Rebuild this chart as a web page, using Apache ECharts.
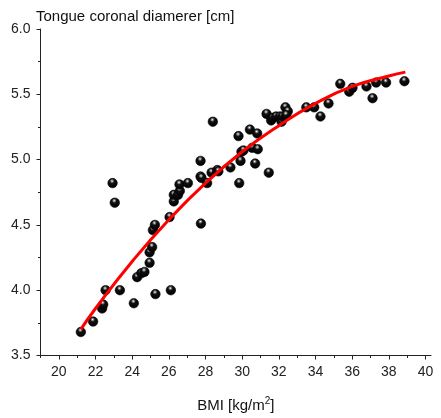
<!DOCTYPE html>
<html>
<head>
<meta charset="utf-8">
<script src="https://cdn.jsdelivr.net/npm/echarts@6/dist/echarts.min.js"></script>
<style>
  html, body { margin: 0; padding: 0; background: #fff; }
  #chart { width: 441px; height: 418px; }
</style>
</head>
<body>
<div id="chart"></div>
<script>
// measured points: BMI, tongue coronal diameter
var bmi = [21.2, 21.87, 22.36, 22.42, 22.55, 22.93, 23.05, 23.33, 24.09, 24.27,
  24.5, 24.67, 24.95, 24.95, 25.09, 25.13, 25.24, 25.27, 26.04, 26.11,
  26.27, 26.27, 26.5, 26.6, 26.58, 27.04, 27.73, 27.73, 27.78, 27.75,
  28.09, 28.33, 28.4, 28.64, 28.7, 29.36, 29.8, 29.84, 29.91, 29.96,
  30.07, 30.42, 30.55, 30.71, 30.82, 30.85, 31.33, 31.45, 31.58, 31.67,
  31.85, 32.05, 32.15, 32.2, 32.36, 32.49, 32.4, 33.5, 33.93, 34.27,
  34.71, 35.35, 35.84, 36.02, 36.78, 37.11, 37.31, 37.85, 38.85];
var diam = [3.68, 3.76, 3.86, 3.89, 4.0, 4.82, 4.67, 4.0, 3.90, 4.10,
  4.13, 4.14, 4.21, 4.29, 4.33, 4.46, 4.50, 3.97, 4.56, 4.0,
  4.68, 4.73, 4.73, 4.76, 4.81, 4.82, 4.99, 4.87, 4.86, 4.51,
  4.82, 4.90, 5.29, 4.92, 4.91, 4.94, 5.18, 4.82, 4.99, 5.06,
  5.07, 5.23, 5.09, 4.97, 5.20, 5.08, 5.35, 4.90, 5.30, 5.32,
  5.33, 5.33, 5.29, 5.33, 5.40, 5.37, 5.34, 5.40, 5.40, 5.33,
  5.43, 5.58, 5.52, 5.55, 5.56, 5.47, 5.59, 5.59, 5.60];

// fitted curve
var fitX = [21.2, 22, 24, 26, 28, 30, 32, 34, 36, 38, 38.9];
var fitY = [3.70, 3.86, 4.22, 4.54, 4.82, 5.06, 5.26, 5.43, 5.56, 5.64, 5.67];

var xMajor = [20, 22, 24, 26, 28, 30, 32, 34, 36, 38, 40];
var xMinor = [19, 21, 23, 25, 27, 29, 31, 33, 35, 37, 39];

var pts = [];
for (var i = 0; i < bmi.length; i++) {
  pts.push([bmi[i], diam[i]]);
}
var fit = [];
for (var j = 0; j < fitX.length; j++) {
  fit.push([fitX[j], fitY[j]]);
}

var font = 'Liberation Sans, Arial, sans-serif';
var axisCol = '#222';

// black sphere with a small white highlight
var ball = {
  type: 'radial', x: 0.45, y: 0.3, r: 0.65,
  colorStops: [
    { offset: 0, color: '#ffffff' },
    { offset: 0.12, color: '#a0a0a0' },
    { offset: 0.35, color: '#111111' },
    { offset: 1, color: '#000000' }
  ]
};

var chart = echarts.init(document.getElementById('chart'), null, { renderer: 'canvas' });
chart.setOption({
  animation: false,
  backgroundColor: '#fff',
  title: {
    text: 'Tongue coronal diamerer [cm]',
    left: 31, top: 4,
    textStyle: { fontFamily: font, fontSize: 15, fontWeight: 'normal', color: '#111' }
  },
  grid: { left: 40.5, right: 10, top: 29, bottom: 57 },
  xAxis: [{
    type: 'value', min: 19, max: 40.3,
    name: 'BMI [kg/m{sup|2}]',
    nameLocation: 'middle', nameGap: 41,
    nameTextStyle: {
      fontFamily: font, fontSize: 15, color: '#111',
      rich: { sup: { fontFamily: font, fontSize: 10, color: '#111', verticalAlign: 'top', padding: [0, 0, 8, 0] } }
    },
    axisLine: { show: true, lineStyle: { color: axisCol, width: 1 } },
    axisTick: { show: true, length: 4, customValues: xMajor, lineStyle: { color: axisCol } },
    axisLabel: { customValues: xMajor, margin: 10, fontFamily: font, fontSize: 14, color: '#222' },
    splitLine: { show: false }
  }, {
    type: 'value', min: 19, max: 40.3, position: 'bottom',
    axisLine: { show: false },
    axisTick: { show: true, length: 2.5, customValues: xMinor, lineStyle: { color: axisCol } },
    axisLabel: { show: false },
    splitLine: { show: false }
  }],
  yAxis: {
    type: 'value', min: 3.5, max: 6.0, interval: 0.5,
    axisLine: { show: true, lineStyle: { color: axisCol, width: 1 } },
    axisTick: { show: true, length: 4, lineStyle: { color: axisCol } },
    minorTick: { show: true, splitNumber: 2, length: 2.5, lineStyle: { color: axisCol } },
    axisLabel: { margin: 10, fontFamily: font, fontSize: 14, color: '#222',
      formatter: function (v) { return v.toFixed(1); } },
    splitLine: { show: false }
  },
  series: [{
    type: 'scatter',
    data: pts,
    symbolSize: 9.5,
    itemStyle: { color: ball, borderColor: '#000', borderWidth: 0.6, opacity: 1 },
    z: 2
  }, {
    type: 'line',
    data: fit,
    smooth: true,
    symbol: 'none',
    lineStyle: { color: '#ff0000', width: 3 },
    z: 3
  }]
});
</script>
</body>
</html>
